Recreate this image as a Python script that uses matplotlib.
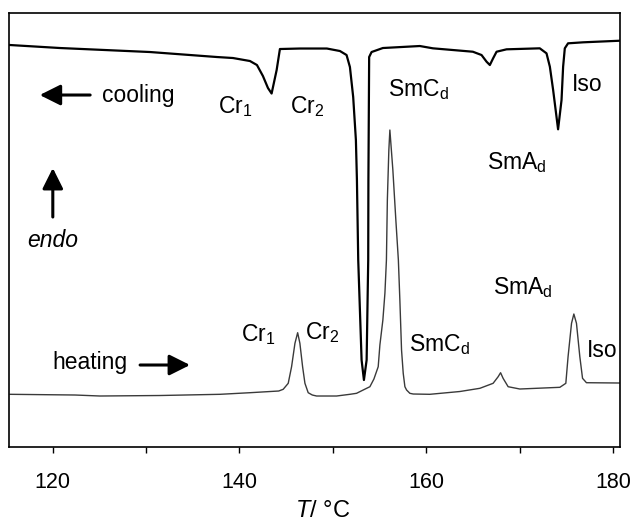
import matplotlib
matplotlib.use("Agg")
import matplotlib.pyplot as plt

plt.rcParams['font.family'] = ['Liberation Sans', 'DejaVu Sans']
plt.rcParams['mathtext.fontset'] = 'custom'
plt.rcParams['mathtext.rm'] = 'Liberation Sans'
plt.rcParams['mathtext.it'] = 'Liberation Sans:italic'

# DSC trace: temperature (°C) and heat flow (arbitrary units)
cool_T = [115.42, 120.77, 130.41, 137.58, 139.30, 141.12, 141.87, 142.51, 143.05, 143.44,
          143.98, 144.33, 146.47, 149.36, 150.76, 151.47, 151.83, 152.18, 152.47, 152.58,
          152.72, 153.08, 153.33, 153.62, 153.79, 153.81, 153.89, 154.15, 155.36, 159.32,
          160.72, 165.00, 165.93, 166.47, 166.82, 167.17, 167.54, 168.61, 172.17, 172.89,
          173.25, 173.60, 173.96, 174.13, 174.50, 174.67, 174.85, 175.20, 176.81, 180.74]
cool_q = [402, 399, 395, 390, 389, 386, 382, 371, 359, 353.5,
          377, 398, 398.5, 398.5, 396, 392, 380, 350, 307, 267,
          187, 87, 67, 87, 187, 267, 390, 395, 399, 401,
          398.7, 395.3, 392, 385.3, 382, 388.7, 395.3, 397.7, 398.7, 393.7,
          380.3, 357, 330.3, 317.7, 347, 380.3, 398.7, 403.7, 404.7, 406.3]

heat_T = [115.42, 122.38, 125.05, 131.48, 137.91, 141.12, 144.20, 144.68, 145.22, 145.58, 145.94,
          146.23, 146.47, 146.76, 147.01, 147.36, 147.80, 148.26, 150.40, 151.83, 152.54, 153.25,
          153.97, 154.40, 154.86, 155.04, 155.36, 155.58, 155.74, 155.84, 156.00, 156.11,
          156.27, 156.43, 156.75, 157.02, 157.18, 157.36, 157.54, 157.72, 157.90, 158.25,
          158.61, 160.39, 163.61, 165.75, 167.17, 167.71, 167.97, 168.24, 168.78, 170.03,
          174.32, 174.96, 175.20, 175.57, 175.82, 176.10, 176.46, 176.75, 177.17, 180.74]
heat_q = [52.7, 52, 51, 51.5, 52.7, 54.3, 56, 57.7, 63.7, 80.3, 103.7,
          114.3, 103.7, 80.3, 63.7, 54.3, 52, 51, 51, 52.7, 53.7, 57,
          60.3, 68, 80.3, 102, 127, 154, 187, 247, 297, 317,
          297, 277, 227, 187, 147, 97, 73.7, 60.3, 57, 53.7,
          53, 52.7, 55.5, 58.7, 63.7, 70.3, 74.3, 68.7, 60.3, 58,
          59.7, 63.7, 90.3, 123.7, 133, 123.7, 90.3, 68.7, 64.3, 64]

# phase labels: (text, T, q)
cool_labels = [('Cr$_1$', 139.5, 340), ('Cr$_2$', 147.3, 340), ('SmC$_\\mathrm{d}$', 159.2, 357),
               ('SmA$_\\mathrm{d}$', 169.7, 284), ('Iso', 177.3, 363)]
heat_labels = [('Cr$_1$', 142.0, 112), ('Cr$_2$', 148.9, 114), ('SmC$_\\mathrm{d}$', 161.4, 102),
               ('SmA$_\\mathrm{d}$', 170.35, 159), ('Iso', 178.9, 97)]

fig = plt.figure(figsize=(6.33, 5.23), dpi=100)
ax = fig.add_axes([0.015, 0.1453, 0.965, 0.8298])

ax.plot(cool_T, cool_q, color='black', lw=1.6)
ax.plot(heat_T, heat_q, color='#3a3a3a', lw=1.0)

for txt, t, q in cool_labels + heat_labels:
    ax.text(t, q, txt, fontsize=16.5, ha='center', va='center')

arrow = dict(arrowstyle='-|>,head_length=0.7,head_width=0.35', lw=2.2, color='black',
             shrinkA=0, shrinkB=0, mutation_scale=18)
ax.text(129.1, 352, 'cooling', fontsize=16.5, ha='center', va='center')
ax.annotate('', xy=(118.6, 352), xytext=(124.0, 352), arrowprops=arrow)
ax.text(124.0, 85, 'heating', fontsize=16.5, ha='center', va='center')
ax.annotate('', xy=(134.7, 82), xytext=(129.35, 82), arrowprops=arrow)
ax.text(120.0, 207, 'endo', fontsize=16.5, ha='center', va='center', style='italic')
ax.annotate('', xy=(120.0, 279), xytext=(120.0, 230), arrowprops=arrow)

ax.set_xlim(115.36, 180.8)
ax.set_ylim(0, 434)
ax.set_yticks([])
ax.set_xticks([120, 130, 140, 150, 160, 170, 180])
ax.set_xticklabels(['120', '', '140', '', '160', '', '180'])
ax.tick_params(axis='x', direction='out', length=4, width=1, labelsize=15.5, pad=14)
ax.set_xlabel('$T$/ °C', fontsize=17)
ax.xaxis.set_label_coords(0.513, -0.123)
for s in ax.spines.values():
    s.set_linewidth(1.2)

fig.savefig('out.png', dpi=100)
